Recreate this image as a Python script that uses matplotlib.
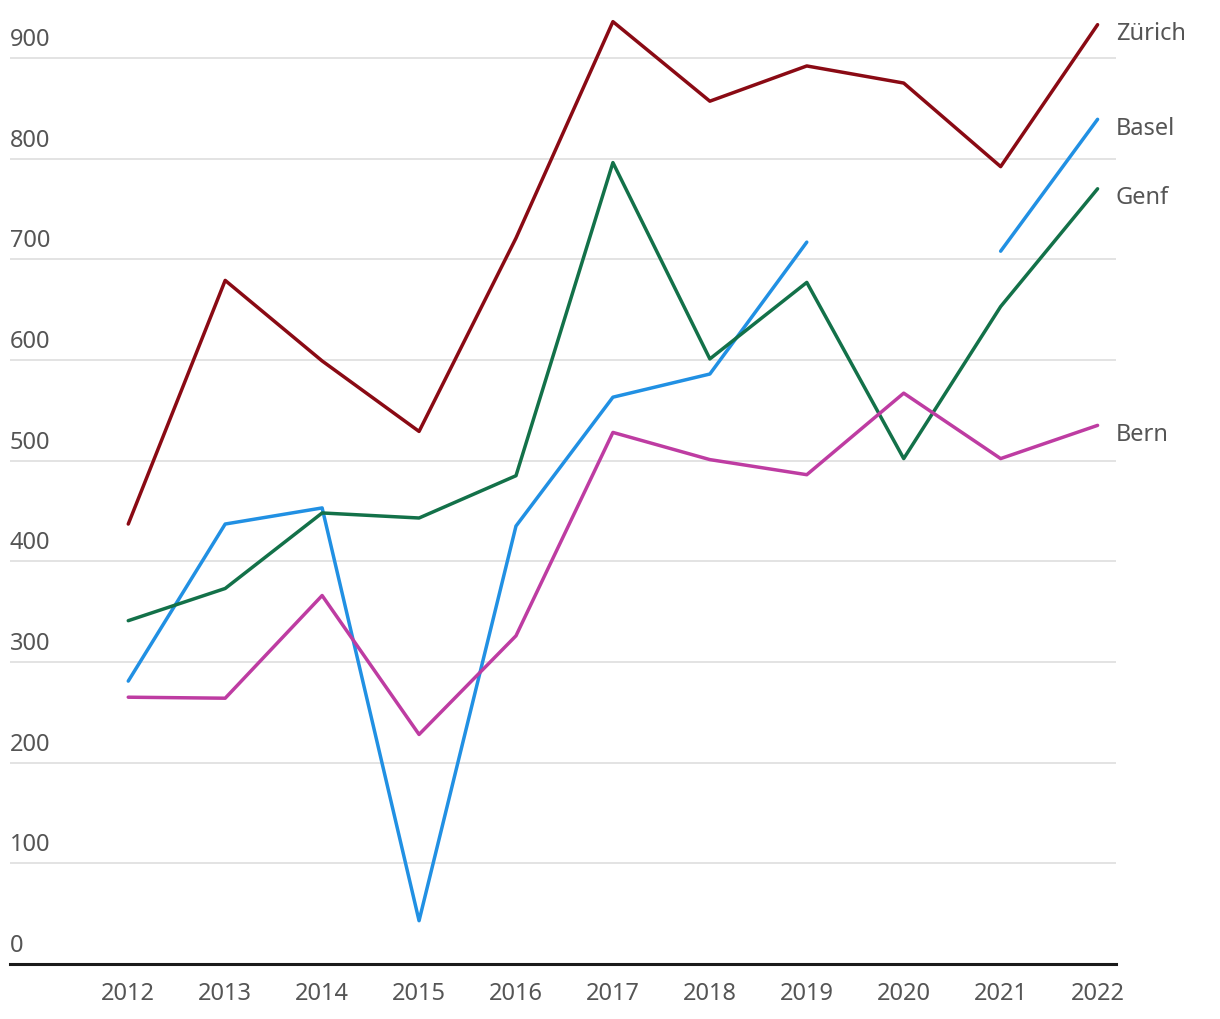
import numpy as np
import matplotlib.pyplot as plt

years = np.arange(2012, 2023)
zuerich = [437, 679, 599, 529, 721, 936, 857, 892, 875, 792, 933]
basel = [281, 437, 453, 43, 435, 563, 586, 717, np.nan, 708, 839]
genf = [341, 373, 448, 443, 485, 796, 601, 677, 502, 653, 770]
bern = [265, 264, 366, 228, 326, 528, 501, 486, 567, 502, 535]

series = [
    ("Zürich", zuerich, "#8a0a14"),
    ("Basel", basel, "#2190e3"),
    ("Genf", genf, "#137149"),
    ("Bern", bern, "#be3ca2"),
]
y_ticks = [0, 100, 200, 300, 400, 500, 600, 700, 800, 900]

plt.rcParams["font.family"] = ["Noto Sans", "DejaVu Sans"]
text_color = "#555555"

fig = plt.figure(figsize=(12.2, 10.2), dpi=100)
ax = fig.add_axes([10 / 1220, 55 / 1020, 1106 / 1220, 965 / 1020])

ax.set_xlim(2010.78, 2022.19)
ax.set_ylim(0, 958.5)

# gridlines + y labels sitting on top of them
for t in y_ticks:
    if t > 0:
        ax.axhline(t, color="#e3e3e3", lw=1.4, zorder=0)
    ax.annotate(str(t), xy=(0, t), xycoords=("axes fraction", "data"),
                xytext=(0, 5), textcoords="offset points",
                ha="left", va="bottom", fontsize=17, color=text_color)
ax.axhline(0, color="#1a1a1a", lw=2.2, zorder=3, clip_on=False)

for name, vals, color in series:
    ax.plot(years, vals, color=color, lw=2.5, solid_capstyle="round",
            solid_joinstyle="round", zorder=4)
    ax.annotate(name, xy=(years[-1], vals[-1]), xytext=(13, -6),
                textcoords="offset points", ha="left", va="center",
                fontsize=17, color=text_color, annotation_clip=False)

ax.set_xticks(years)
ax.set_xticklabels([str(y) for y in years], fontsize=17, color=text_color)
ax.tick_params(axis="x", length=0, pad=12)
ax.set_yticks([])
for s in ax.spines.values():
    s.set_visible(False)

fig.savefig("out.png", dpi=100)
